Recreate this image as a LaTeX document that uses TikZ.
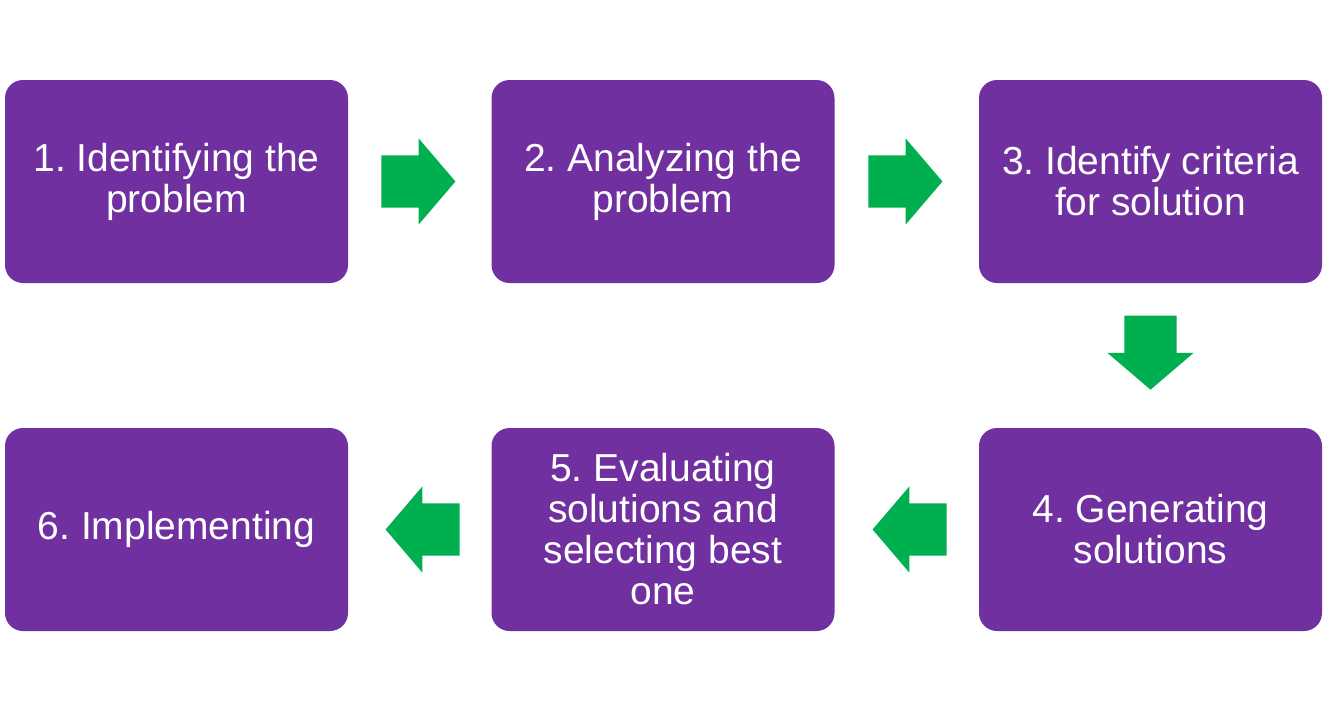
\documentclass[tikz,border=0pt]{standalone}
\usepackage{fontspec}
\setmainfont{Liberation Sans}
\usetikzlibrary{shapes.arrows,calc}
\definecolor{pourpre}{HTML}{7030A0}
\definecolor{vert}{HTML}{00B050}
\frenchspacing
\begin{document}
\begin{tikzpicture}[x=1pt,y=-1pt]
\tikzset{etape/.style={fill=pourpre, rounded corners=18pt, minimum width=343pt, minimum height=203pt, inner sep=0pt, text=white, align=center, font=\fontsize{39}{41}\selectfont}}
\tikzset{fleche/.style={single arrow, fill=vert, inner xsep=0pt, inner ysep=26pt, minimum height=74pt, single arrow head extend=17pt, single arrow tip angle=99}}
\useasboundingbox (0,0) rectangle (1336,712);
\node[etape] (E1) at (176.5,181.5) {1. Identifying the\\problem};
\node[etape] (E2) at (663,181.5) {2. Analyzing the\\problem};
\node[etape] (E3) at (1150.5,181.5) {3. Identify criteria\\for solution};
\node[etape] (E4) at (1150.5,529.5) {4. Generating\\solutions};
\node[etape] (E5) at (663,529.5) {5. Evaluating\\solutions and\\selecting best\\one};
\node[etape] (E6) at (176.5,529.5) {6. Implementing};
\node[fleche] (F1) at ($(E1.east)!0.5!(E2.west)+(-12.5,0)$) {};
\node[fleche] (F2) at ($(E2.east)!0.5!(E3.west)+(-12.5,0)$) {};
\node[fleche, inner xsep=26pt, inner ysep=0pt, shape border rotate=270] (F3) at ($(E3.south)!0.5!(E4.north)+(0,-14)$) {};
\node[fleche, shape border rotate=180] (F4) at ($(E4.west)!0.5!(E5.east)+(14,0)$) {};
\node[fleche, shape border rotate=180] (F5) at ($(E5.west)!0.5!(E6.east)+(14,0)$) {};
\end{tikzpicture}
\end{document}
